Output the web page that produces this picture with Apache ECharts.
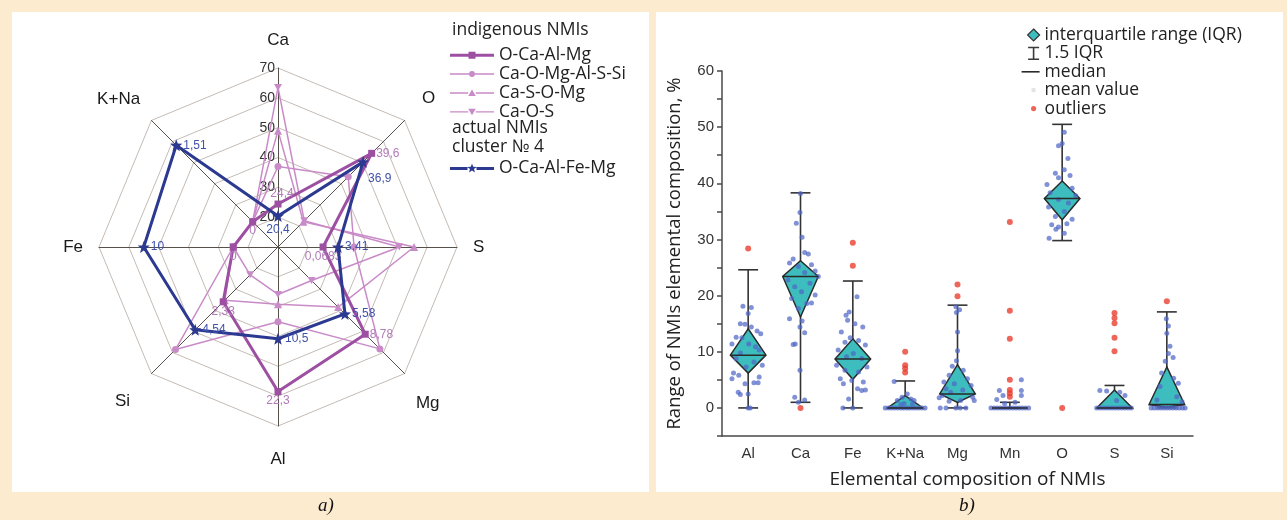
<!DOCTYPE html>
<html><head><meta charset="utf-8">
<script src="https://cdn.jsdelivr.net/npm/echarts@6/dist/echarts.min.js"></script>
<style>
html,body{margin:0;padding:0;background:#fdebd0;}
#wrap{position:relative;width:1287px;height:520px;overflow:hidden;}
.panel{position:absolute;background:#fff;}
#c{position:absolute;left:0;top:0;width:1287px;height:520px;}
</style>
</head><body>
<div id="wrap">
<div class="panel" style="left:12px;top:12px;width:637px;height:480px;"></div>
<div class="panel" style="left:656px;top:12px;width:627px;height:480px;"></div>
<div id="c"></div>
</div>
<script>
// ---------- radar (a) ----------
const radarAxes = ['Ca','K+Na','Fe','Si','Al','Mg','S','O'];
const radarMin  = [10, -0.5, -5, -2, -10, -5, -10, 10];
const radarMax  = [70,  2,   15,  8,  30, 15,  30, 50];
const vOCaAlMg    = [24.4, 0, 0, 2.33, 22.3, 8.78, 0.0683, 39.6];
const vCaOMgAlSSi = [37.0, 0, 0, 6.1, 6.7, 11.1, 7.0, 32.2];
const vCaSOMg     = [49.0, 0, 0, 2.2, 2.8, 4.5, 20.4, 18.0];
const vCaOS       = [63.5, 0, 0, 0.2, 0.6, 0.3, 17.1, 18.3];
const vCluster4   = [20.4, 1.51, 10, 4.54, 10.5, 5.58, 3.41, 36.9];

// ---------- box plot (b) ----------
const cats    = ['Al','Ca','Fe','K+Na','Mg','Mn','O','S','Si'];
const whiskLo = [0, 1.0, 0, 0, 0, 0, 29.8, 0, 0];
const q1      = [6.2, 16.2, 5.1, 0, 1.0, 0, 33.5, 0, 0.1];
const med     = [9.4, 23.4, 8.7, 0, 2.5, 0, 37.3, 0, 0.6];
const q3      = [14.1, 26.2, 12.3, 2.2, 7.7, 0, 40.4, 3.2, 7.3];
const whiskHi = [24.6, 38.3, 22.6, 4.8, 18.3, 1.0, 50.5, 4.0, 17.1];

const outAl = [28.4];
const outCa = [0];
const outFe = [29.4, 25.3];
const outKNa = [10.0, 7.6, 7.0, 6.3];
const outMg = [22.0, 19.9];
const outMn = [33.1, 17.3, 12.3, 5.0, 3.2, 2.6, 2.0];
const outO = [0];
const outS = [16.9, 16.0, 15.1, 12.5, 10.1];
const outSi = [19.0];

// [horizontal jitter (share of category band), value]
const ptsAl = [[-0.10,18.1],[0.06,17.9],[0,16.8],[-0.15,15.0],[-0.06,14.9],[0.06,14.4],[0.17,13.7],[0.24,13.2],[-0.23,12.6],[-0.12,12.5],[-0.31,11.4],[0.01,11.4],[0.14,10.9],[0.21,10.3],[-0.15,9.8],[-0.23,8.8],[0.11,8.2],[0.27,7.6],[-0.04,7.3],[-0.28,6.2],[-0.18,5.8],[-0.31,5.2],[0.21,5.5],[-0.06,4.3],[0.11,4.5],[0.19,4.5],[-0.19,2.8],[-0.15,2.4],[0,2.5],[0,0],[0.04,0]];
const ptsCa = [[0,38.2],[-0.01,34.8],[-0.08,32.9],[0.03,30.4],[0.08,27.7],[0.15,27.4],[-0.14,26.5],[-0.21,25.8],[0.21,25.5],[-0.04,25.2],[0.28,24.4],[0.08,24.1],[0.34,23.4],[-0.24,22.8],[0.18,22.2],[-0.11,21.6],[0.02,20.7],[0.28,20.1],[-0.17,19.5],[0.12,18.6],[0.21,18.7],[-0.04,17.7],[-0.21,15.9],[0.03,15.5],[-0.01,14.4],[0.08,13.4],[-0.1,11.4],[-0.14,11.3],[-0.01,6.7],[-0.11,1.9],[0.08,1.4],[-0.04,1.0]];
const ptsFe = [[0.08,19.8],[-0.07,17.1],[-0.13,16.5],[-0.1,15.6],[0.04,15.0],[0.19,14.4],[-0.22,13.5],[-0.05,12.5],[0.11,12.0],[-0.15,11.7],[0.24,11.2],[-0.28,10.3],[0.01,9.7],[-0.12,9.1],[0.17,8.8],[-0.31,7.6],[0.27,7.3],[-0.15,6.7],[0.11,6.4],[-0.24,5.2],[-0.02,4.9],[0.2,4.6],[-0.18,4.3],[0.09,3.4],[0.17,3.1],[0.24,3.2],[-0.08,1.6],[-0.19,0],[0,0]];
const ptsKNa = [[-0.21,4.7],[-0.06,1.9],[0.04,2.5],[0.11,1.6],[0.17,1.3],[-0.15,1.3],[-0.02,0.8],[-0.08,0.6],[0.14,0.7],[-0.38,0],[-0.32,0],[-0.26,0],[-0.2,0],[-0.14,0],[-0.08,0],[-0.03,0],[0.03,0],[0.08,0],[0.14,0],[0.2,0],[0.26,0],[0.32,0],[0.38,0]];
const ptsMg = [[-0.03,18.0],[0.04,17.5],[-0.02,17.0],[0,13.5],[0,10.2],[-0.02,8.4],[-0.1,7.4],[0.11,6.7],[-0.16,5.8],[0.19,5.2],[-0.26,4.6],[-0.06,4.3],[0.26,4.0],[-0.22,3.4],[0.1,3.2],[-0.13,2.8],[-0.29,2.2],[0.29,1.9],[-0.35,1.8],[0.06,1.3],[-0.16,1.2],[0.32,1.3],[-0.03,0],[-0.22,0],[0.16,0],[-0.33,0],[0.05,0]];
const ptsMn = [[0.22,5.0],[-0.2,3.1],[0.22,3.1],[-0.13,2.2],[0.22,2.2],[-0.25,1.5],[0.1,1.0],[-0.1,0.8],[-0.36,0],[-0.3,0],[-0.24,0],[-0.18,0],[-0.12,0],[-0.06,0],[0,0],[0.06,0],[0.12,0],[0.18,0],[0.24,0],[0.3,0],[0.36,0]];
const ptsO = [[0.04,49.1],[-0.07,46.7],[0,47.1],[0.11,44.4],[0.04,42.4],[-0.13,41.8],[0.15,41.4],[-0.07,41.0],[-0.29,39.8],[0.19,39.1],[-0.23,38.3],[0.26,37.8],[-0.07,37.1],[0.12,36.5],[-0.26,35.8],[0.04,35.0],[-0.13,34.1],[0.19,33.6],[-0.2,32.6],[-0.07,32.2],[0.09,32.8],[-0.12,31.8],[-0.25,30.2],[0.04,31.1]];
const ptsS = [[-0.28,3.1],[-0.15,3.0],[0.1,2.8],[0.2,2.2],[0.04,1.3],[-0.34,0],[-0.28,0],[-0.22,0],[-0.16,0],[-0.1,0],[-0.04,0],[0.02,0],[0.08,0],[0.14,0],[0.2,0],[0.26,0],[0.32,0]];
const ptsSi = [[-0.01,15.9],[0.03,14.6],[0,13.3],[0.06,11.0],[0.03,9.7],[0.12,9.0],[-0.03,8.3],[-0.1,6.2],[0.13,5.3],[0.22,4.4],[-0.13,3.8],[0.19,2.0],[-0.19,1.4],[0.29,1.1],[-0.3,0],[-0.24,0],[-0.18,0],[-0.12,0],[-0.06,0],[0,0],[0.06,0],[0.12,0],[0.18,0],[0.24,0],[0.3,0],[0.35,0]];

const ptsByCat = [ptsAl, ptsCa, ptsFe, ptsKNa, ptsMg, ptsMn, ptsO, ptsS, ptsSi];
const outByCat = [outAl, outCa, outFe, outKNa, outMg, outMn, outO, outS, outSi];

// ---------- styling helpers ----------
const PINK = '#c98bc8', PURPLE = '#9d4fa2', NAVY = '#2b3990', TEAL = '#3dbdbd';
const STAR = 'path://M22,0 L23.23,3.3 L26.76,3.45 L24,5.65 L24.94,9.05 L22,7.1 L19.06,9.05 L20,5.65 L17.24,3.45 L20.77,3.3 Z';
const DOWNTRI = 'path://M0,0 L10,0 L5,8.66 Z';
const fmt = v => String(v).replace('.', ',');

// axis-name nudges (style only)
const nameStyleKey = {'Ca':'ca','K+Na':'up','O':'upR','Fe':'pl','S':'pl','Si':'downL','Mg':'down','Al':'al'};
const AX_FONT = '"Liberation Sans", Arial, sans-serif';
const LEG_FONT = '"Open Sans", "Noto Sans", sans-serif';
const nameRich = {
  ca:{padding:[0,0,3,0]}, up:{padding:[0,0,20,0]}, upR:{padding:[0,0,22,6]},
  pl:{padding:[0,0,0,0]}, downL:{padding:[32,10,0,0]}, down:{padding:[36,0,0,0]}, al:{padding:[9,0,0,0]}
};
Object.values(nameRich).forEach(s=>{ s.fontSize = 17; s.fontFamily = AX_FONT; s.color = '#1a1a1a'; });

// label placement per vertex (style only)
const placeOCaAlMg = ['top','bottom','bottom','bottom','bottom','right','bottom','right'];
const placeCluster4 = ['bottom','right','right','right','right','right','right','bottomRight'];
const placement = {};
function reg(si, vals, places){ const m = {}; vals.forEach((v,i)=>{ m[fmt(v)] = places[i]; }); placement[si] = m; }
reg(3, vOCaAlMg, placeOCaAlMg);
reg(4, vCluster4, placeCluster4);
function radarLabelLayout(p){
  const m = placement[p.seriesIndex]; if(!m) return {};
  const r = p.rect, cx = r.x + r.width/2, cy = r.y + r.height/2;
  switch(m[p.text]){
    case 'bottom': return {x: cx, y: r.y + r.height + (p.seriesIndex===4?2:0), align:'center', verticalAlign:'top'};
    case 'top': return {x: cx + 4, y: r.y - 1, align:'center', verticalAlign:'bottom'};
    case 'bottomRight': return {x: cx + 5, y: cy + 17, align:'left', verticalAlign:'middle'};
    default: return {x: r.x + r.width + 1, y: cy, align:'left', verticalAlign:'middle'};
  }
}

// legend icons (fixed frames so each icon keeps its own size)
const FR_L = 'M0,0L0,0 M44,10L44,10 ';
const icoSquare = 'path://' + FR_L + 'M0,3.5h18.5v3h-18.5z M25.5,3.5h18.5v3h-18.5z M18.5,1.5h7v7h-7z';
const icoCircle = 'path://' + FR_L + 'M0,4.3h19v1.4h-19z M25,4.3h19v1.4h-19z M25,5 A3,3 0 1 1 19,5 A3,3 0 1 1 25,5 Z';
const icoTri = 'path://' + FR_L + 'M0,4.3h18.2v1.4h-18.2z M25.8,4.3h18.2v1.4h-18.2z M22,1.5 L25.8,8 L18.2,8 Z';
const icoDown = 'path://' + FR_L + 'M0,4.3h18.2v1.4h-18.2z M25.8,4.3h18.2v1.4h-18.2z M18.2,2 L25.8,2 L22,8.5 Z';
const icoStar = 'path://' + FR_L + 'M0,3.5h17.5v3h-17.5z M26.5,3.5h17.5v3h-17.5z ' + STAR.slice(7);
const FR_R = 'M0,0L0,0 M22,14L22,14 ';
const icoIQR = 'path://' + FR_R + 'M16,1 L22,7 L16,13 L10,7 Z';
const icoWhisk = 'path://' + FR_R + 'M10.5,0.3h11v1.6h-11z M15.2,1.9h1.6v10.2h-1.6z M10.5,12.1h11v1.6h-11z';
const icoMed = 'path://' + FR_R + 'M4,6.2h18v1.6h-18z';
const icoMean = 'path://' + FR_R + 'M14,5h4v4h-4z';
const icoOut = 'path://' + FR_R + 'M18.6,7 A2.6,2.6 0 1 1 13.4,7 A2.6,2.6 0 1 1 18.6,7 Z';

// ---------- series data tables ----------
const whiskData = cats.map((c,i)=>[i, whiskLo[i], whiskHi[i]]);
const kiteData  = cats.map((c,i)=>[i, q1[i], med[i], q3[i]]);
const medData   = cats.map((c,i)=>[i, med[i]]);
const ptsData = [];
ptsByCat.forEach((arr,i)=>arr.forEach(([o,v])=>ptsData.push([i+o, v])));
const outData = [];
outByCat.forEach((arr,i)=>arr.forEach(v=>outData.push([i, v])));

const radarSeries = (name, vals, color, width, symbol, size, z, label) => ({
  type:'radar', name, z, symbol, symbolSize: size,
  lineStyle:{color, width}, itemStyle:{color},
  data:[{value: vals, name}],
  label: label || {show:false},
  labelLayout: radarLabelLayout
});

const LEG_TXT = {color:'#222', fontSize:17.5, fontFamily:LEG_FONT};

const option = {
  animation:false,
  backgroundColor:'transparent',
  radar:{
    center:[278,247], radius:179, startAngle:90, splitNumber:6, shape:'polygon',
    indicator: radarAxes.map((n,i)=>{
      const o = {name:n, min:radarMin[i], max:radarMax[i]};
      if(n==='Ca') o.axisLabel = {show:true, showMinLabel:false, color:'#333', fontSize:14, fontFamily:AX_FONT, margin:3};
      return o;
    }),
    axisName:{color:'#1a1a1a', fontSize:17, fontFamily:AX_FONT, rich:nameRich,
      formatter:(name)=>'{' + nameStyleKey[name] + '|' + name + '}'},
    nameGap:16,
    axisLine:{lineStyle:{color:'#57514c', width:1}},
    splitLine:{lineStyle:{color:'#c4bbb4', width:1}},
    splitArea:{show:false},
    axisTick:{show:false},
    axisLabel:{show:false}
  },
  grid:{left:722, top:71, width:471, height:365},
  xAxis:[
    {type:'category', data:cats, boundaryGap:true,
     axisLine:{onZero:false, lineStyle:{color:'#4a4a4a', width:1.5}},
     axisTick:{alignWithLabel:true, length:5, lineStyle:{color:'#4a4a4a', width:1.5}},
     axisLabel:{color:'#333', fontSize:15, fontFamily:AX_FONT, margin:10},
     name:'Elemental composition of NMIs', nameLocation:'middle', nameGap:34,
     nameTextStyle:{color:'#222', fontSize:19, fontFamily:LEG_FONT, padding:[0,0,0,20]}},
    {type:'value', min:-0.5, max:8.5, show:false}
  ],
  yAxis:{type:'value', min:-5, max:60, interval:5,
    axisLine:{show:true, onZero:false, lineStyle:{color:'#4a4a4a', width:1.5}},
    axisTick:{show:true, length:5, lineStyle:{color:'#4a4a4a', width:1.5}},
    splitLine:{show:false},
    axisLabel:{color:'#333', fontSize:15, fontFamily:AX_FONT, margin:8, formatter: v => (v % 10 === 0 ? String(v) : '')},
    name:'Range of NMIs elemental composition, %', nameLocation:'middle', nameGap:38,
    nameTextStyle:{color:'#222', fontSize:18.5, fontFamily:LEG_FONT}},
  legend:[
    {orient:'vertical', left:450, top:45.7, padding:0, itemWidth:44, itemHeight:10, itemGap:0, selectedMode:false,
     textStyle:Object.assign({lineHeight:18.9}, LEG_TXT),
     data:[
       {name:'O-Ca-Al-Mg', icon:icoSquare, itemStyle:{color:PURPLE, borderWidth:0}},
       {name:'Ca-O-Mg-Al-S-Si', icon:icoCircle, itemStyle:{color:PINK, borderWidth:0}},
       {name:'Ca-S-O-Mg', icon:icoTri, itemStyle:{color:PINK, borderWidth:0}},
       {name:'Ca-O-S', icon:icoDown, itemStyle:{color:PINK, borderWidth:0}}
     ]},
    {orient:'vertical', left:450, top:159, padding:0, itemWidth:44, itemHeight:10, itemGap:0, selectedMode:false,
     textStyle:Object.assign({lineHeight:18.9}, LEG_TXT),
     data:[{name:'O-Ca-Al-Fe-Mg', icon:icoStar, itemStyle:{color:NAVY, borderWidth:0}}]},
    {orient:'vertical', left:1017, top:25.8, padding:0, itemWidth:22, itemHeight:14, itemGap:0, selectedMode:false,
     textStyle:Object.assign({lineHeight:18.4}, LEG_TXT),
     data:[
       {name:'interquartile range (IQR)', icon:icoIQR, itemStyle:{color:TEAL, borderColor:'#333', borderWidth:1.2}},
       {name:'1.5 IQR', icon:icoWhisk, itemStyle:{color:'#3a3a3a', borderWidth:0}},
       {name:'median', icon:icoMed, itemStyle:{color:'#2a2a2a', borderWidth:0}},
       {name:'mean value', icon:icoMean, itemStyle:{color:'#dcdcdc', borderWidth:0}},
       {name:'outliers', icon:icoOut, itemStyle:{color:'#e8402f', borderWidth:0}}
     ]}
  ],
  graphic:[
    {type:'text', left:452, top:21.5, style:{text:'indigenous NMIs', font:'17.5px '+LEG_FONT, fill:'#222'}},
    {type:'text', left:452, top:119.5, style:{text:'actual NMIs', font:'17.5px '+LEG_FONT, fill:'#222'}},
    {type:'text', left:452, top:138, style:{text:'cluster № 4', font:'17.5px '+LEG_FONT, fill:'#222'}},
    {type:'text', left:318, top:496, style:{text:'a)', font:'italic 19px "Liberation Serif", "Times New Roman", serif', fill:'#111'}},
    {type:'text', left:959, top:496, style:{text:'b)', font:'italic 19px "Liberation Serif", "Times New Roman", serif', fill:'#111'}}
  ],
  series:[
    radarSeries('Ca-O-S', vCaOS, PINK, 1.5, DOWNTRI, [8,7], 2),
    radarSeries('Ca-S-O-Mg', vCaSOMg, PINK, 1.5, 'triangle', 8, 2),
    radarSeries('Ca-O-Mg-Al-S-Si', vCaOMgAlSSi, PINK, 1.5, 'circle', 7, 2),
    radarSeries('O-Ca-Al-Mg', vOCaAlMg, PURPLE, 3, 'rect', 7, 3,
      {show:true, formatter:p=>fmt(p.value), color:'#b27ab9', fontSize:12, fontFamily:AX_FONT}),
    radarSeries('O-Ca-Al-Fe-Mg', vCluster4, NAVY, 3, STAR, 12, 4,
      {show:true, formatter:p=>fmt(p.value), color:'#3f51a9', fontSize:12, fontFamily:AX_FONT}),
    {type:'custom', name:'1.5 IQR', xAxisIndex:1, yAxisIndex:0, z:2, data:whiskData,
     encode:{x:0, y:[1,2]},
     renderItem:(params, api)=>{
       const i = api.value(0);
       const lo = api.coord([i, api.value(1)]), hi = api.coord([i, api.value(2)]);
       const cw = api.size([1,0])[0]*0.19;
       const st = {stroke:'#333', lineWidth:1.6};
       return {type:'group', children:[
         {type:'line', shape:{x1:lo[0], y1:lo[1], x2:hi[0], y2:hi[1]}, style:st},
         {type:'line', shape:{x1:hi[0]-cw, y1:hi[1], x2:hi[0]+cw, y2:hi[1]}, style:st},
         {type:'line', shape:{x1:lo[0]-cw, y1:lo[1], x2:lo[0]+cw, y2:lo[1]}, style:st}
       ]};
     }},
    {type:'custom', name:'interquartile range (IQR)', xAxisIndex:1, yAxisIndex:0, z:3, data:kiteData,
     encode:{x:0, y:[1,2,3]},
     renderItem:(params, api)=>{
       const i = api.value(0);
       const a = api.coord([i, api.value(1)]), m = api.coord([i, api.value(2)]), b = api.coord([i, api.value(3)]);
       if (Math.abs(a[1]-b[1]) < 0.5) return {type:'group', children:[]};
       const hw = api.size([1,0])[0]*0.34;
       return {type:'polygon', shape:{points:[[b[0],b[1]],[m[0]+hw,m[1]],[a[0],a[1]],[m[0]-hw,m[1]]]},
               style:{fill:TEAL, stroke:'#2a2a2a', lineWidth:1.5}};
     }},
    {type:'scatter', name:'points', xAxisIndex:1, yAxisIndex:0, z:4, data:ptsData, symbolSize:5,
     itemStyle:{color:'#5066c6', opacity:0.72}},
    {type:'custom', name:'median', xAxisIndex:1, yAxisIndex:0, z:5, data:medData,
     encode:{x:0, y:1},
     renderItem:(params, api)=>{
       const i = api.value(0);
       const m = api.coord([i, api.value(1)]);
       const hw = api.size([1,0])[0]*0.34;
       return {type:'line', shape:{x1:m[0]-hw, y1:m[1], x2:m[0]+hw, y2:m[1]}, style:{stroke:'#2a2a2a', lineWidth:1.5}};
     }},
    {type:'scatter', name:'mean value', xAxisIndex:1, yAxisIndex:0, data:[], symbol:'rect', symbolSize:4, itemStyle:{color:'#dcdcdc'}},
    {type:'scatter', name:'outliers', xAxisIndex:1, yAxisIndex:0, z:6, data:outData, symbolSize:6,
     itemStyle:{color:'#e8402f'}}
  ]
};
const chart = echarts.init(document.getElementById('c'));
chart.setOption(option);
</script>
</body></html>
